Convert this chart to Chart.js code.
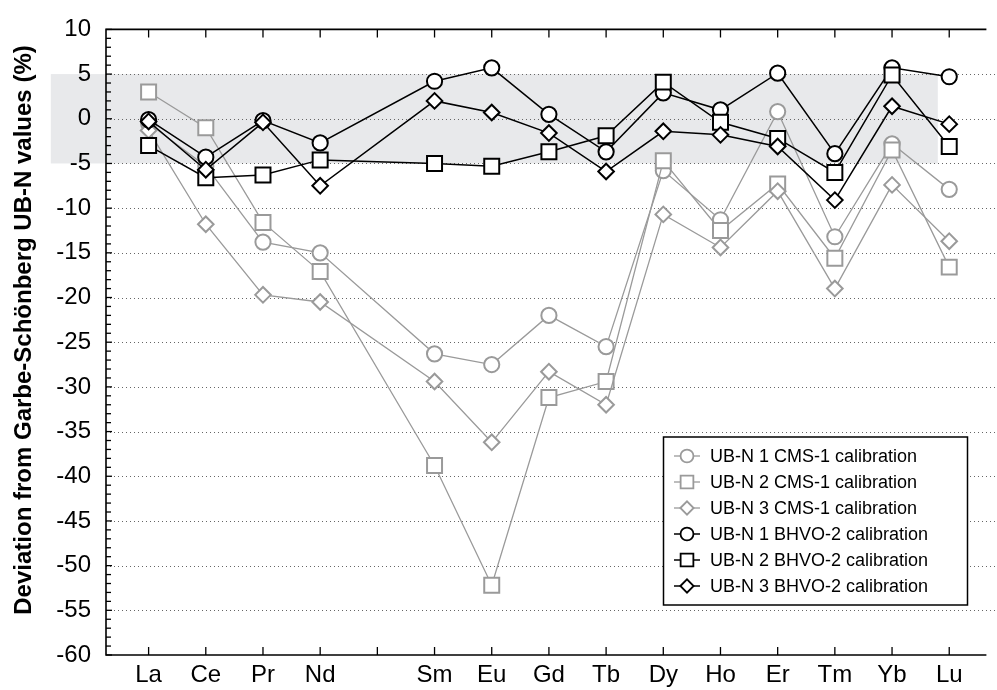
<!DOCTYPE html>
<html>
<head>
<meta charset="utf-8">
<script src="https://cdn.jsdelivr.net/npm/chart.js@4.4.0/dist/chart.umd.min.js"></script>
<style>
html,body{margin:0;padding:0;background:#fff;}
canvas{display:block;}
</style>
</head>
<body>
<canvas id="c" width="997" height="690"></canvas>
<script>
// ---- data ----
const categories = ['La','Ce','Pr','Nd','','Sm','Eu','Gd','Tb','Dy','Ho','Er','Tm','Yb','Lu'];
const yTickValues = [10,5,0,-5,-10,-15,-20,-25,-30,-35,-40,-45,-50,-55,-60];
const yTitle = 'Deviation from Garbe-Schönberg UB-N values (%)';

const ubn1_cms1  = [-0.5, -5.3, -13.8, -15.0, null, -26.3, -27.5, -22.0, -25.5,  -5.8, -11.3,  0.8, -13.2, -2.8,  -7.9];
const ubn2_cms1  = [ 3.0, -1.0, -11.6, -17.1, null, -38.8, -52.2, -31.2, -29.4,  -4.7, -12.5, -7.3, -15.6, -3.5, -16.6];
const ubn3_cms1  = [-1.3,-11.8, -19.7, -20.5, null, -29.4, -36.2, -28.3, -32.0, -10.7, -14.4, -8.1, -19.0, -7.4, -13.7];
const ubn1_bhvo2 = [-0.1, -4.3,  -0.2,  -2.7, null,   4.2,   5.7,   0.5,  -3.7,   2.9,   1.0,  5.1,  -3.9,  5.7,   4.7];
const ubn2_bhvo2 = [-3.0, -6.6,  -6.3,  -4.6, null,  -5.0,  -5.3,  -3.7,  -1.9,   4.1,  -0.4, -2.2,  -6.0,  4.9,  -3.1];
const ubn3_bhvo2 = [-0.3, -5.7,  -0.4,  -7.5, null,   2.0,   0.7,  -1.6,  -5.9,  -1.4,  -1.8, -3.1,  -9.1,  1.4,  -0.6];

const seriesLabels = [
  'UB-N 1 CMS-1 calibration',
  'UB-N 2 CMS-1 calibration',
  'UB-N 3 CMS-1 calibration',
  'UB-N 1 BHVO-2 calibration',
  'UB-N 2 BHVO-2 calibration',
  'UB-N 3 BHVO-2 calibration'
];
const bandRange = [-5, 5];

// ---- styles ----
const FONT = "'Liberation Sans', Arial, Helvetica, sans-serif";
const GRAY = '#9a9a9a';
const BLACK = '#000000';
const BAND = '#e8e9eb';

function makeDs(label, values, color, style, radius, order) {
  return {
    label,
    data: values.map((v, i) => ({x: i, y: v})),
    borderColor: color,
    backgroundColor: '#ffffff',
    pointBackgroundColor: '#ffffff',
    pointBorderColor: color,
    pointBorderWidth: 2,
    borderWidth: color === GRAY ? 1.3 : 1.5,
    pointStyle: style,
    pointRadius: radius,
    pointHoverRadius: radius,
    spanGaps: true,
    tension: 0,
    order
  };
}

const datasets = [
  makeDs(seriesLabels[0], ubn1_cms1, GRAY, 'circle', 7.6, 6),
  makeDs(seriesLabels[1], ubn2_cms1, GRAY, 'rect', 10.6, 5),
  makeDs(seriesLabels[2], ubn3_cms1, GRAY, 'rectRot', 7.8, 4),
  makeDs(seriesLabels[3], ubn1_bhvo2, BLACK, 'circle', 7.6, 3),
  makeDs(seriesLabels[4], ubn2_bhvo2, BLACK, 'rect', 10.6, 2),
  makeDs(seriesLabels[5], ubn3_bhvo2, BLACK, 'rectRot', 7.8, 1)
];

const bandPlugin = {
  id: 'band',
  beforeDraw(chart) {
    const {ctx, scales: {x, y}} = chart;
    const yTop = y.getPixelForValue(bandRange[1]);
    const yBot = y.getPixelForValue(bandRange[0]);
    const xl = x.getPixelForValue(-1.71);
    const xr = x.getPixelForValue(13.8);
    ctx.save();
    ctx.fillStyle = BAND;
    ctx.fillRect(xl, yTop, xr - xl, yBot - yTop);
    ctx.restore();
  }
};

const framePlugin = {
  id: 'frame',
  beforeDatasetsDraw(chart) {
    const {ctx, chartArea: a, scales: {x, y}} = chart;
    ctx.save();
    // dotted gridlines
    ctx.strokeStyle = '#666666';
    ctx.lineWidth = 1;
    ctx.setLineDash([1, 3]);
    yTickValues.forEach(v => {
      if (v === 10 || v === -60) return;
      const py = Math.round(y.getPixelForValue(v)) + 0.5;
      ctx.beginPath();
      ctx.moveTo(a.left, py);
      ctx.lineTo(chart.width, py);
      ctx.stroke();
    });
    ctx.setLineDash([]);
    // axes
    ctx.strokeStyle = '#000';
    ctx.lineWidth = 1.6;
    ctx.beginPath();
    ctx.moveTo(a.right + 2, a.top);
    ctx.lineTo(a.left, a.top);
    ctx.lineTo(a.left, a.bottom);
    ctx.lineTo(a.right + 2, a.bottom);
    ctx.stroke();
    // x tick marks (inward, top & bottom)
    ctx.lineWidth = 1.3;
    categories.forEach((c, i) => {
      const px = x.getPixelForValue(i);
      ctx.beginPath();
      ctx.moveTo(px, a.top); ctx.lineTo(px, a.top + 8);
      ctx.moveTo(px, a.bottom); ctx.lineTo(px, a.bottom - 8);
      ctx.stroke();
    });
    // y minor ticks
    for (let v = y.min; v <= y.max; v += 1) {
      const py = y.getPixelForValue(v);
      const len = (v % 5 === 0) ? 6 : 5;
      ctx.beginPath();
      ctx.moveTo(a.left, py); ctx.lineTo(a.left + len, py);
      ctx.stroke();
    }
    ctx.restore();
  }
};

const titlePlugin = {
  id: 'ytitle',
  afterDraw(chart) {
    const ctx = chart.ctx;
    ctx.save();
    ctx.translate(24, 330);
    ctx.rotate(-Math.PI / 2);
    ctx.font = 'bold 24px ' + FONT;
    ctx.fillStyle = '#000';
    ctx.textAlign = 'center';
    ctx.textBaseline = 'middle';
    ctx.fillText(yTitle, 0, 0);
    ctx.restore();
  }
};

const legendPlugin = {
  id: 'customLegend',
  afterDraw(chart) {
    const ctx = chart.ctx;
    const bx = 663.5, by = 437, bw = 304, bh = 168;
    ctx.save();
    ctx.fillStyle = '#fff';
    ctx.fillRect(bx, by, bw, bh);
    ctx.strokeStyle = '#000';
    ctx.lineWidth = 1.5;
    ctx.strokeRect(bx, by, bw, bh);
    chart.data.datasets.forEach((ds, i) => {
      const cy = 456 + i * 26;
      ctx.strokeStyle = ds.borderColor;
      ctx.lineWidth = ds.borderWidth;
      ctx.beginPath();
      ctx.moveTo(674, cy); ctx.lineTo(700, cy);
      ctx.stroke();
      ctx.fillStyle = '#fff';
      ctx.lineWidth = 1.8;
      Chart.helpers.drawPoint(ctx, {
        pointStyle: ds.pointStyle,
        radius: ds.pointRadius * 0.85,
        rotation: 0,
        borderWidth: 1.8
      }, 687, cy);
      ctx.fillStyle = '#000';
      ctx.font = '18px ' + FONT;
      ctx.textAlign = 'left';
      ctx.textBaseline = 'middle';
      ctx.fillText(ds.label, 710, cy + 1);
    });
    ctx.restore();
  }
};

new Chart(document.getElementById('c'), {
  type: 'line',
  data: {datasets},
  plugins: [bandPlugin, framePlugin, titlePlugin, legendPlugin],
  options: {
    responsive: false,
    animation: false,
    devicePixelRatio: 1,
    layout: {padding: {top: 27, right: 0, left: 0, bottom: 0}},
    plugins: {legend: {display: false}, tooltip: {enabled: false}},
    scales: {
      x: {
        type: 'linear',
        min: -0.745,
        max: 14.615,
        afterBuildTicks: s => { s.ticks = categories.map((c, i) => ({value: i})); },
        afterFit: s => { s.height = 35; },
        grid: {display: false, drawTicks: false},
        border: {display: false},
        ticks: {
          autoSkip: false,
          maxRotation: 0,
          padding: 6,
          color: '#000',
          font: {size: 24, family: FONT},
          callback: v => categories[v] !== undefined ? categories[v] : ''
        }
      },
      y: {
        type: 'linear',
        min: -60,
        max: 10,
        afterBuildTicks: s => { s.ticks = yTickValues.map(v => ({value: v})); },
        afterFit: s => { s.width = 106; },
        grid: {display: false, drawTicks: false},
        border: {display: false},
        ticks: {
          padding: 15,
          color: '#000',
          font: {size: 24, family: FONT},
          callback: v => String(v)
        }
      }
    }
  }
});
</script>
</body>
</html>
